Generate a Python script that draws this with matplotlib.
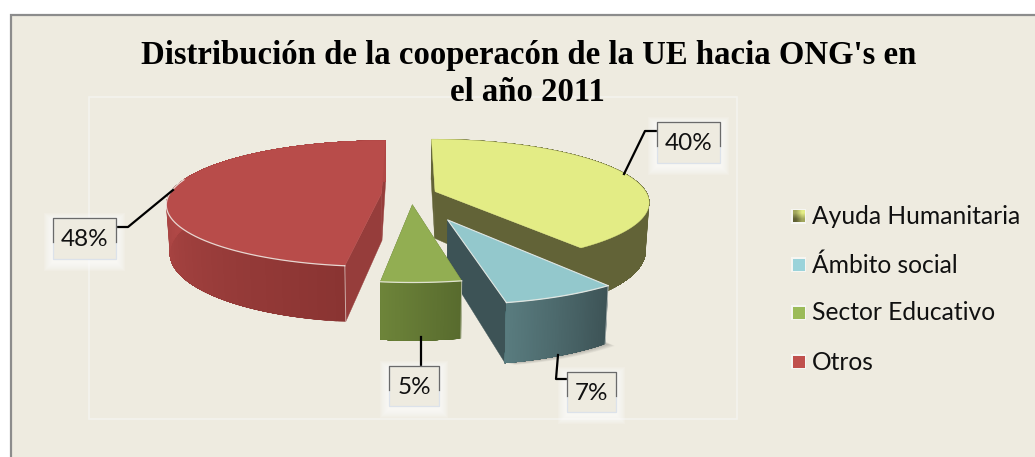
#!/usr/bin/env python3
import numpy as np
import matplotlib
matplotlib.use("Agg")
import matplotlib.pyplot as plt
from matplotlib.colors import to_rgb, LinearSegmentedColormap
from matplotlib.patches import Polygon, Rectangle

title = "Distribución de la cooperacón de la UE hacia ONG's en\nel año 2011"
categories = ["Ayuda Humanitaria", "Ámbito social", "Sector Educativo", "Otros"]
values = [40, 7, 5, 48]

# per slice styling: explode, top colour, side colour, outer wall colours, legend colour
explode = [0.13, 0.43, 0.17, 0.13]
nudge_x = [0.0, 0.0, 0.01, 0.0]
top_colors = ["#E3EC85", "#93C8CC", "#92AE52", "#B84C4A"]
side_colors = ["#626337", "#3D5356", "#5A6D30", "#963D3B"]
wall_start = ["#626337", "#3D5356", "#586B2E", "#8A3432"]
wall_end = ["#626337", "#5A7D80", "#6E853A", "#B04846"]
wall_span = [1.0, 1.0, 1.0, 2.0]
legend_colors = ["#8F9450", "#9BD3DA", "#9BBB59", "#C0504D"]
white_edges = [False, True, True, True]

# label box (left, top, right, bottom) and leader line, pixels
label_boxes = [(657, 122, 720, 163), (567, 372, 616, 412), (389, 366, 439, 406), (53, 218, 116, 259)]
leader_x = [[657, 645, 624], [567, 556, 558], [421, 421], [116, 128, 173]]
leader_y = [[131, 131, 174], [379, 379, 355], [366, 337], [227, 227, 190]]

BG = "#EEEBE0"
CX, CY = 409, 194     # pie centre in pixels
R = 212               # radius
TILT = 0.29           # squash of the pie plane
PERSP = 0.16          # far side gets smaller
DEPTH = 47            # height of the slices
SHRINK = 0.985        # bottom outline a bit narrower


def project(x, y, bottom=False):
    f = 1.0 / (1.0 + PERSP * y)
    px = R * x * f
    py = CY - R * TILT * y * f
    if bottom:
        px = px * SHRINK
        py = py + DEPTH * f
    return CX + px, py


def lerp(c1, c2, t):
    a, b = np.array(to_rgb(c1)), np.array(to_rgb(c2))
    return tuple(a + (b - a) * min(t, 1.0))


def poly(ax, xs, ys, color, z):
    ax.add_patch(Polygon(np.column_stack([xs, ys]), closed=True, facecolor=color,
                         edgecolor=color, linewidth=0.3, zorder=z))


def draw_slice(ax, start, end, i, z):
    mid = np.radians((start + end) / 2)
    ox, oy = explode[i] * np.sin(mid) + nudge_x[i], explode[i] * np.cos(mid)
    th = np.radians(np.linspace(start, end, 80))
    ax_, ay_ = ox + np.sin(th), oy + np.cos(th)

    if i == 1:
        # soft shadow under the teal slice
        xb, yb = project(np.r_[ox, ax_], np.r_[oy, ay_], bottom=True)
        for d in range(1, 8):
            ax.add_patch(Polygon(np.column_stack([xb + d * 1.4, yb + d * 0.3]), closed=True,
                                 facecolor="black", edgecolor="none", alpha=0.035, zorder=z - 0.1))

    # side walls first, the top and the outer wall cover what is hidden
    for k in (0, -1):
        xt, yt = project(np.array([ox, ax_[k]]), np.array([oy, ay_[k]]))
        xb, yb = project(np.array([ax_[k], ox]), np.array([ay_[k], oy]), bottom=True)
        poly(ax, np.r_[xt, xb], np.r_[yt, yb], side_colors[i], z)

    # outer wall gradient, each piece runs to the arc end so no seams show
    for j in range(len(th) - 1):
        xt, yt = project(ax_[j:], ay_[j:])
        xb, yb = project(ax_[j:][::-1], ay_[j:][::-1], bottom=True)
        t = wall_span[i] * j / len(th)
        poly(ax, np.r_[xt, xb], np.r_[yt, yb], lerp(wall_start[i], wall_end[i], t), z)

    xs, ys = project(np.r_[ox, ax_], np.r_[oy, ay_])
    poly(ax, xs, ys, top_colors[i], z + 0.1)

    if white_edges[i]:
        front = ay_ < 0.25
        xe, ye = project(ax_[front], ay_[front])
        ax.plot(xe, ye, color="#F2F0EA", lw=0.9, alpha=0.85, zorder=z + 0.2)
        k = 0 if front[0] else -1
        xc, yc = project(np.array([ax_[k]]), np.array([ay_[k]]))
        xd, yd = project(np.array([ax_[k]]), np.array([ay_[k]]), bottom=True)
        ax.plot([xc[0], xd[0]], [yc[0], yd[0]], color="#F2F0EA", lw=0.7, alpha=0.6, zorder=z + 0.2)
    if i == 1:
        xe, ye = project(np.r_[ax_[0], ox, ax_[-1]], np.r_[ay_[0], oy, ay_[-1]])
        ax.plot(xe, ye, color="#F2F0EA", lw=0.8, alpha=0.85, zorder=z + 0.2)


def main():
    fig = plt.figure(figsize=(10.35, 4.57), dpi=100, facecolor="white")
    ax = fig.add_axes([0, 0, 1, 1])
    ax.axis("off")

    # chart area and plot frame
    ax.add_patch(Rectangle((10.5, 14.5), 1100, 460, facecolor=BG, edgecolor="#8C8C8C", linewidth=1.6, zorder=0))
    ax.add_patch(Rectangle((88.5, 96.5), 648, 322, facecolor="none", edgecolor="#F3F3EE", linewidth=1.2, zorder=1))

    ax.text(529, 64, title.split("\n")[0], ha="center", va="baseline", fontsize=23.6,
            fontweight="bold", family="Liberation Serif", color="black", zorder=9)
    ax.text(527.5, 101, title.split("\n")[1], ha="center", va="baseline", fontsize=23.6,
            fontweight="bold", family="Liberation Serif", color="black", zorder=9)

    # slices clockwise from 12 o'clock
    edges = np.r_[0, np.cumsum(values)] * 360.0 / sum(values)
    for i, z in zip([0, 3, 1, 2], [3, 3.5, 4, 5]):
        draw_slice(ax, edges[i], edges[i + 1], i, z)

    # labels
    for i, box in enumerate(label_boxes):
        x0, y0, x1, y1 = box
        for g in range(9, 0, -1):
            ax.add_patch(Rectangle((x0 - g, y0 - g + 4), x1 - x0 + 2 * g, y1 - y0 + 2 * g - 1,
                                   facecolor="white", edgecolor="none", alpha=0.13, zorder=6))
        ax.add_patch(Rectangle((x0, y0), x1 - x0, y1 - y0, facecolor=BG, edgecolor="#DCE2EA",
                               linewidth=0.9, zorder=6.5))
        ax.plot([x0, x0, x1, x1], [y0 + 24, y0, y0, y0 + 24], color="#6A6A6A", lw=0.9, zorder=6.6)
        ax.plot(leader_x[i], leader_y[i], color="black", lw=1.6, zorder=6.2, solid_joinstyle="round")
        ax.text((x0 + x1) / 2, (y0 + y1) / 2 + 1, f"{values[i]}%", ha="center", va="center",
                fontsize=17.5, family="Lato", color="#111111", zorder=7)

    # legend
    legend_y = [217, 265, 313, 362]
    for i, name in enumerate(categories):
        ax.add_patch(Rectangle((791, legend_y[i] - 8), 15, 15, facecolor="#F6F6F2", edgecolor="none", zorder=6))
        if i == 0:
            # first swatch has a diagonal gradient
            cmap = LinearSegmentedColormap.from_list("swatch", ["#5F6034", "#E3EC85"])
            ax.imshow([[0.5, 1.0], [0.0, 0.5]], cmap=cmap, extent=(792.5, 804.5, legend_y[i] + 5.5, legend_y[i] - 6.5),
                      interpolation="bilinear", aspect="auto", zorder=6.5)
        else:
            ax.add_patch(Rectangle((792.5, legend_y[i] - 6.5), 12, 12, facecolor=legend_colors[i],
                                   edgecolor="none", zorder=6.5))
        ax.text(812, legend_y[i], name, ha="left", va="center", fontsize=17.7, family="Lato",
                color="#111111", zorder=7)

    ax.set_xlim(0, 1035)
    ax.set_ylim(457, 0)
    fig.savefig("out.png", dpi=100, facecolor="white")
    plt.close(fig)


if __name__ == "__main__":
    main()
